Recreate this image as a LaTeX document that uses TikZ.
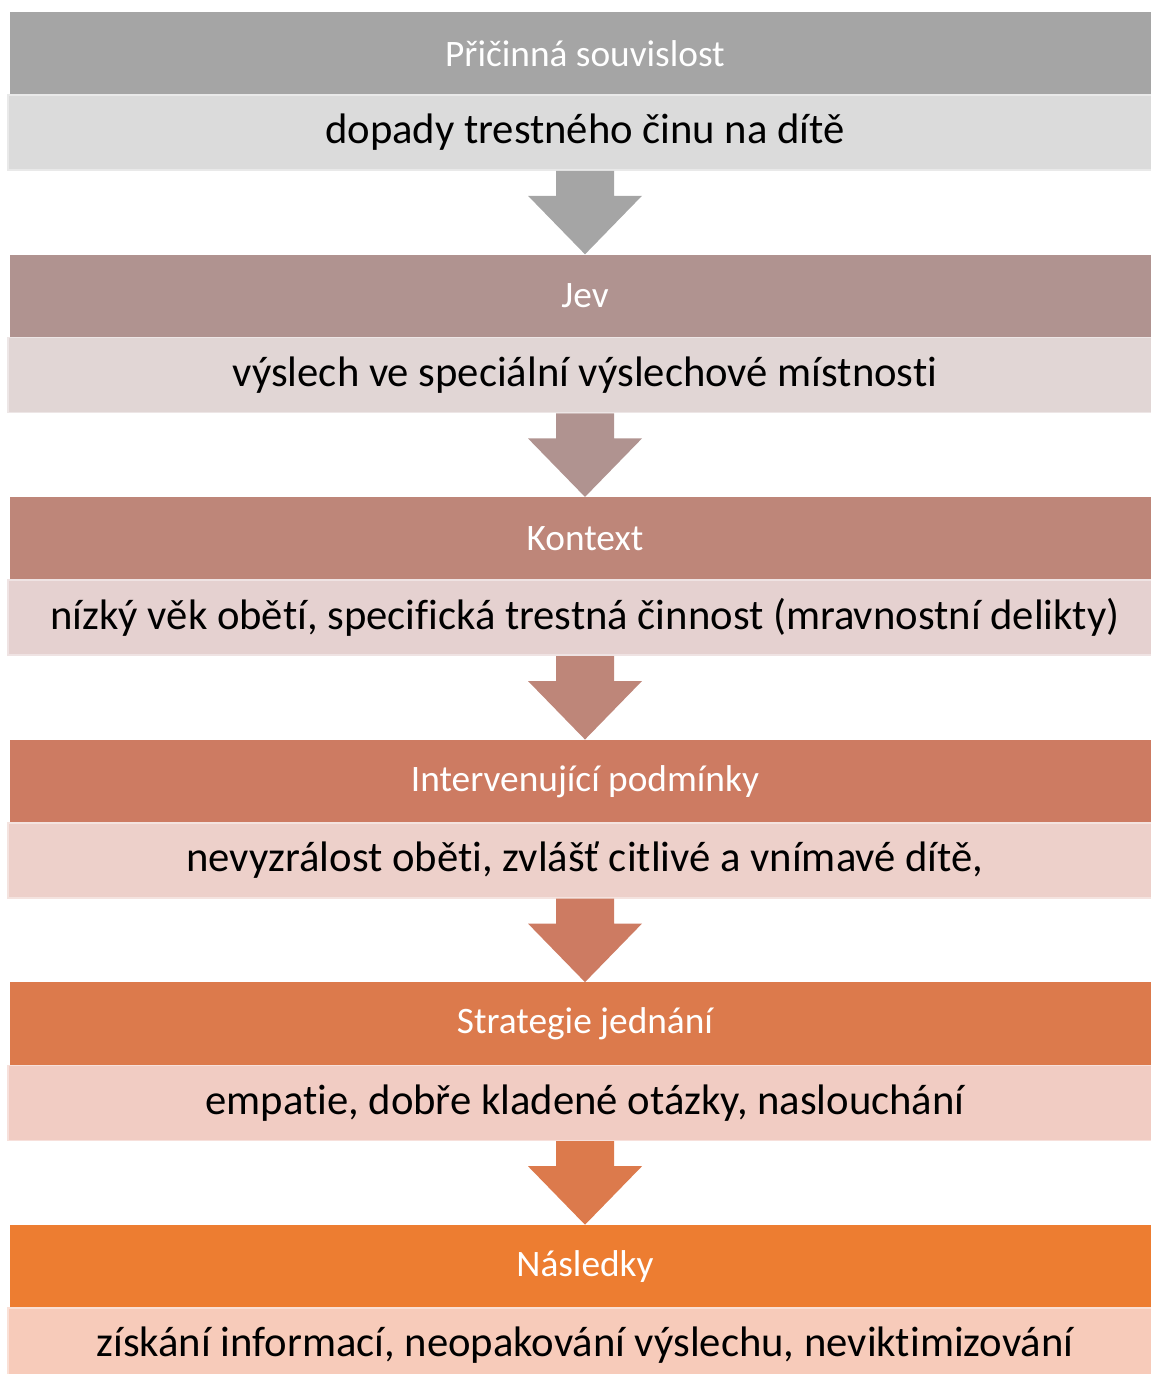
\documentclass[tikz,border=0pt]{standalone}
\usepackage{fontspec}
\setmainfont{Carlito}[Ligatures=NoCommon]
\usetikzlibrary{calc}
\definecolor{hA}{HTML}{A5A5A5}\definecolor{tA}{HTML}{DBDBDB}
\definecolor{hB}{HTML}{B09390}\definecolor{tB}{HTML}{E1D6D5}
\definecolor{hC}{HTML}{BE8679}\definecolor{tC}{HTML}{E5D1D0}
\definecolor{hD}{HTML}{CD7B62}\definecolor{tD}{HTML}{EDD0CA}
\definecolor{hE}{HTML}{DC7A4C}\definecolor{tE}{HTML}{F1CCC3}
\definecolor{hF}{HTML}{ED7D31}\definecolor{tF}{HTML}{F7CBBA}
\begin{document}
\begin{tikzpicture}[x=0.75pt,y=-0.75pt,
  hdr/.style={fill=#1, draw=none, minimum width=862.5pt, minimum height=62.25pt, inner sep=0pt,
    text=white, font=\fontsize{28}{33}\selectfont},
  bar/.style={fill=#1, draw=#1!60!white, line width=1.2pt, minimum width=865.5pt, minimum height=56.25pt, inner sep=0pt,
    text=black, font=\fontsize{32}{38}\selectfont},
  flow/.style={fill=#1, draw=none}]
\useasboundingbox (0,0) rectangle (1150,1374);
\foreach \k/\hc/\tc/\headtxt/\bartxt [count=\i] in {
  0/hA/tA/{Přičinná souvislost}/{dopady trestného činu na dítě},
  1/hB/tB/{Jev}/{výslech ve speciální výslechové místnosti},
  2/hC/tC/{Kontext}/{nízký věk obětí, specifická trestná činnost (mravnostní delikty)},
  3/hD/tD/{Intervenující podmínky}/{nevyzrálost oběti, zvlášť citlivé a vnímavé dítě,},
  4/hE/tE/{Strategie jednání}/{empatie, dobře kladené otázky, naslouchání},
  5/hF/tF/{Následky}/{získání informací, neopakování výslechu, neviktimizování}} {
  \pgfmathsetmacro{\ytop}{12+242.6*\k}
  \node[hdr=\hc] (h\i) at (585,\ytop+41.5) {\headtxt};
  \node[bar=\tc] (t\i) at (585,\ytop+120.5) {\bartxt};
}
\foreach \i/\c in {1/hA,2/hB,3/hC,4/hD,5/hE} {
  \pgfmathtruncatemacro{\j}{\i+1}
  \fill[flow=\c] ($(t\i.south)+(-29,0)$) -- ($(t\i.south)+(29,0)$)
    -- ($(t\i.south)+(29,25)$) -- ($(t\i.south)+(57,25)$)
    -- (h\j.north) -- ($(t\i.south)+(-57,25)$) -- ($(t\i.south)+(-29,25)$) -- cycle;
}
\end{tikzpicture}
\end{document}
